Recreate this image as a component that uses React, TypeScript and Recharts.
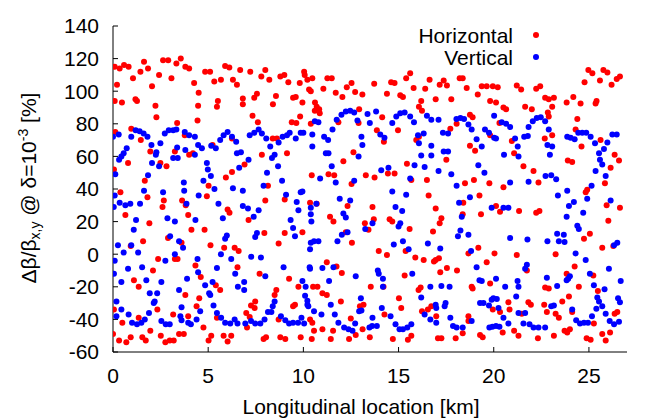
import React from "react";
import { ScatterChart, Scatter, XAxis, YAxis } from "recharts";

// Horizontal beta-beat [km, %]
const horizontalPoints: [number, number][] = [
  [0.09,115],[0.35,114],[0.58,116],[0.82,115],[0.21,104],[0.09,94],[0.47,93],[1.05,108],[1.44,112],[1.63,118],[1.84,114],[2.05,103],[1.18,95],[1.26,94],[2.23,91],[2.28,84],[2.42,110],[2.63,119],[2.9,119],[3.07,108],[3.33,117],[3.56,120],[3.8,115],[4.0,114],[4.26,105],[4.5,99],[4.47,91],[4.44,82],[3.37,80.5],[0.12,75],[0.96,77],[1.46,70],[1.96,63],[2.49,56],[2.81,54],[3.25,63],[3.77,73],[4.0,61],[4.2,62],[0.05,52],[0.79,56],[0.39,38],[0.65,24],[1.67,45],[1.81,35],[2.67,33],[2.6,29],[3.63,33],[3.82,30],[3.95,24],[4.12,15],[1.91,19],[1.58,8],[0.93,5],[2.89,10],[3.6,7],[2.37,-3],[3.25,-3],[3.39,-3],[4.33,-7],[1.1,-16],[1.35,-20],[2.1,-10],[3.8,-25],[4.39,-32],[2.33,-34],[0.05,-34],[0.49,-42],[1.35,-39],[3.16,-37],[3.95,-38],[0,-49],[0.32,-53],[0.7,-54],[0.93,-51],[1.54,-51],[1.72,-53],[1.96,-47],[2.51,-50],[2.75,-54],[2.98,-53],[3.19,-53],[3.47,-49],[3.72,-49],
  [4.84,112],[5.1,112],[5.32,106],[5.67,107],[5.89,115.5],[6.11,114.5],[6.3,107],[6.51,104],[6.68,113],[7.21,112],[7.79,109],[8.0,113],[8.21,107],[8.79,109],[9.0,110],[5.51,94],[5.46,90.5],[6.82,95.5],[6.82,92],[7.42,96],[7.56,98.5],[8.56,97],[8.4,92],[7.33,85],[7.61,81],[6.25,71],[8.39,71],[8.61,71],[9.14,62],[5.23,67],[6.91,55],[7.82,61],[8.14,42],[9.02,33.5],[8.0,33],[6.25,50.5],[5.93,47],[5.02,42],[4.93,35.5],[6.02,27.5],[6.12,25.5],[7.12,21],[4.81,15],[7.95,13],[8.7,6.5],[9.02,13],[5.12,5.5],[5.84,4],[6.39,4],[6.6,2],[4.61,-14],[6.54,-8],[7.7,-12],[5.4,-19],[5.63,-22],[8.58,-22],[8.49,-25],[4.53,-27],[7.47,-29],[7.25,-31.5],[7.44,-33],[7.0,-36],[7.18,-38.5],[5.46,-39],[8.7,-40],[4.75,-45],[5.02,-53],[5.16,-50],[5.81,-50],[6.02,-53.5],[6.21,-50],[7.04,-45],[7.91,-52],[8.04,-51],[8.79,-51],[9.05,-52],
  [9.21,105.5],[9.81,105],[10.04,112],[10.07,110],[10.21,107],[10.47,108],[10.3,101],[10.39,100],[11.05,101.5],[11.26,108],[11.49,108],[11.7,99],[12.05,96.5],[12.28,102.5],[12.53,105],[12.72,99.5],[13.1,98],[13.72,104.5],[9.46,96],[9.6,96.5],[9.95,93],[10.61,93],[10.6,88],[10.7,90.5],[10.83,89],[10.86,86.5],[9.39,81],[9.63,80.5],[9.83,84.5],[10.39,80],[11.84,81],[12.93,89],[12.9,80.5],[12.63,62.5],[12.1,57],[11.62,48.5],[11.32,49],[10.44,48.5],[13.28,48.5],[12.53,43],[10.35,31.5],[10.7,31],[11.4,23],[11.58,20],[12.32,29.5],[13.23,19],[13.42,15],[13.63,29],[9.95,13.5],[12.23,13.5],[12.55,7],[11.23,-5],[11.74,-7.5],[12.02,-11.5],[9.25,-15],[9.74,-20],[10.51,-20],[10.74,-20],[11.0,-24],[11.23,-25],[11.97,-29],[13.54,-20],[9.56,-31],[9.46,-32],[12.97,-32],[13.16,-31],[10.35,-40],[10.47,-42],[12.49,-39.5],[13.11,-46],[11.0,-46],[11.56,-47],[9.86,-51],[10.44,-52],[11.44,-52],[12.4,-52],[12.75,-49.5],[13.49,-51],[10.56,-47],
  [14.39,98.5],[14.61,105.5],[14.79,105],[15.09,97.5],[15.23,96.5],[15.4,108],[15.61,111],[15.79,102],[16.19,94],[16.4,101.5],[16.63,107],[16.95,95],[17.16,104],[17.37,106.5],[17.54,103.5],[17.77,95],[18.21,108],[13.86,76],[14.14,84],[14.97,76],[16.07,90.5],[16.23,88],[16.07,72],[15.93,70],[17.72,77],[14.23,69],[13.74,47],[14.44,49.5],[14.79,49.5],[15.44,55.5],[15.67,45.5],[16.49,45.5],[16.58,36],[17.51,58],[13.7,21.5],[14.53,21.5],[14.67,20],[15.58,15.5],[16.81,14],[16.95,28],[17.25,22],[17.16,19],[13.96,2],[14.39,-0.5],[15.37,2],[15.88,-2],[16.32,-3.5],[16.95,-3.5],[17.12,-2.5],[18.07,-10],[15.32,-13],[16.86,-4.5],[17.54,-8.5],[14.21,-20],[16.05,-22],[16.16,-20.5],[17.19,-11],[15.02,-27],[15.14,-33],[16.54,-34],[16.72,-32],[16.23,-35],[14.26,-37],[14.7,-52],[15.49,-52.5],[15.67,-50],[17.07,-51.5],[17.25,-51.5],[18.0,-51.5],[16.98,-38],
  [18.37,108],[18.58,102],[19.16,98],[19.37,103],[19.63,103],[19.95,103],[20.21,102.5],[19.81,94],[20.12,93],[20.51,90],[20.65,89],[21.21,103.5],[21.44,101],[21.65,90.5],[22.0,89],[22.23,101.5],[22.44,103],[22.7,96],[18.75,85.5],[18.89,84],[20.3,80.5],[19.81,73],[18.05,80],[18.75,66.5],[19.02,63.5],[20.95,69.5],[21.07,62],[21.56,54],[22.09,51],[18.49,43.5],[18.96,45.5],[19.77,43.5],[20.51,41],[22.35,44],[19.25,36],[18.4,31.5],[18.37,24.5],[19.33,24.5],[20.12,29.5],[20.33,26],[21.33,26.5],[22.23,25.5],[22.4,26.5],[19.19,4],[18.67,0.5],[20.04,0.5],[21.21,-0.5],[18.89,-21],[18.84,-20],[19.81,-18],[19.63,-5],[21.74,-10],[21.82,-29.5],[21.95,-31],[22.7,-20.5],[22.65,-31],[18.67,-38],[19.95,-34],[20.33,-35.5],[20.77,-29.5],[20.83,-34],[21.47,-36.5],[22.79,-35.5],[18.37,-48.5],[19.28,-49.5],[19.42,-51],[20.47,-48],[21.07,-47],[21.3,-50],[22.32,-51.5],[18.67,-41],
  [22.89,95],[23.16,96],[22.84,87],[22.89,84.5],[23.07,90.5],[23.83,93],[24.18,96.5],[24.56,92.5],[25.35,92.5],[25.4,94],[24.77,105.5],[24.97,113],[25.18,111],[25.58,106.5],[25.76,113],[25.97,111.5],[26.19,104],[26.46,107.5],[26.63,109],[24.39,83],[24.3,76.5],[24.61,66],[23.07,73],[22.68,71],[23.89,57.5],[24.12,56.5],[25.61,70],[26.35,61],[26.58,57.5],[26.14,53],[25.84,43.5],[24.83,38],[24.91,39.5],[25.93,30],[26.63,28.5],[26.02,20.5],[25.05,12.5],[24.74,9.5],[25.7,4],[26.28,5],[23.25,0],[24.25,-7.5],[23.83,-12],[25.23,-13],[22.89,-21],[24.47,-20],[23.95,-26],[23.6,-29],[25.47,-22.5],[23.25,-36.5],[23.42,-39],[24.12,-35.5],[26.35,-36.5],[26.49,-35.5],[23.72,-47],[23.86,-48],[24.0,-46],[23.16,-50],[24.88,-51.5],[25.09,-52.5],[25.26,-42.5],[25.7,-49],[25.88,-53],[26.11,-48],
];

// Vertical beta-beat [km, %]
const verticalPoints: [number, number][] = [
  [0,72],[0.3,73.5],[0.96,72],[1.19,76],[1.4,75.5],[1.61,74],[1.81,72],[2.02,67],[2.28,62.5],[2.25,61],[2.49,68],[2.72,74],[2.93,76],[3.16,76],[3.33,76.5],[3.77,75],[4.0,73],[4.3,72],[4.47,67],[3.16,59],[3.4,59],[2.05,56],[2.42,54],[3.37,65.5],[3.8,64],[4.3,61],[0.32,58],[0.44,60],[0.56,62],[0.72,65],[0.12,49],[0.09,36],[0.04,29],[0.35,31.5],[0.65,30],[0.91,31],[1.42,31],[1.63,39],[1.84,48.5],[2.63,38],[2.86,22],[3.25,20],[3.72,44],[3.74,39],[3.86,31],[4.33,21],[4.5,36],[1.21,21],[1.09,15],[0.26,5.5],[0.56,1],[0.96,5.5],[1.32,1],[0.09,-4],[0.05,-12],[0.44,-17],[0.79,-9],[1.53,-8],[1.75,-16],[1.93,-24],[2.14,-30],[2.19,-29],[2.32,-24],[2.54,-17],[2.75,-4],[3.0,11],[3.25,0],[3.47,8],[3.68,4],[3.89,-15],[4.44,-3],[4.47,-11],[3.47,-22],[3.6,-32.5],[0.18,-29],[0.44,-34],[0.18,-38],[0.82,-37],[1.0,-42],[1.26,-43],[1.49,-42],[1.67,-40],[1.89,-36],[2.54,-41],[2.77,-43],[2.98,-43],[3.54,-38],[3.6,-40.5],[3.95,-42],[4.09,-43],[4.39,-40],
  [4.67,65],[5.16,66.5],[5.4,65],[5.63,70],[5.81,73],[6.02,75],[6.25,72],[6.47,69],[6.51,62],[6.72,62.5],[6.63,53],[7.12,58],[7.18,73],[7.42,74.5],[7.65,76.5],[7.82,74],[8.05,71],[8.26,66],[8.35,59],[8.49,61],[8.7,68.5],[8.91,72],[9.14,73],[8.67,54],[8.09,50],[8.88,45],[9.09,36.5],[7.91,42],[4.93,56],[4.98,52],[5.14,48],[4.75,45],[5.33,40],[6.3,40.5],[6.82,39],[5.54,31],[5.77,22],[6.82,29.5],[7.09,28],[7.65,27],[7.39,23],[5.89,9.5],[5.98,11.5],[7.47,10.5],[7.56,13],[5.67,0],[6.21,-3],[7.26,-1.5],[7.77,-2],[5.46,-8.5],[6.42,-12],[8.0,-13.5],[8.96,-8],[4.84,-19],[5.23,-17],[5.05,-24],[5.11,-25],[5.28,-31.5],[6.56,-20],[6.89,-17],[6.89,-22],[8.49,-29],[8.39,-32],[8.32,-35.5],[8.14,-35.5],[8.82,-38],[4.58,-35],[5.46,-36],[5.68,-39],[5.89,-42],[6.16,-42.5],[6.39,-40],[6.54,-42.5],[6.95,-42.5],[7.25,-41],[7.47,-42.5],[7.74,-42.5],[7.96,-40],[9.05,-40.5],
  [9.28,74.5],[9.6,71],[9.86,74.5],[10.0,74.5],[10.47,73.5],[10.6,81.5],[10.79,81],[10.47,66],[11.09,72],[11.3,70],[11.18,62],[11.32,62],[11.53,76.5],[11.75,82.5],[12.0,85.5],[12.23,87.5],[12.46,88],[12.67,87],[12.84,82],[13.05,72],[13.1,67],[12.9,60],[13.37,86],[13.49,80.5],[11.49,54],[11.7,44],[10.88,46.5],[12.67,45],[9.86,38],[9.95,38.5],[9.65,32],[9.74,27],[10.39,28.5],[10.39,24.5],[10.42,20],[10.68,31],[9.33,21],[9.46,16],[11.91,34],[12.46,33],[12.1,25],[12.23,22.5],[12.02,12],[12.32,13.5],[13.25,15.5],[13.63,19],[9.56,11],[10.39,7],[10.56,8],[10.79,8],[11.79,8],[10.35,3],[10.33,-8],[10.35,-9],[11.0,-8.5],[11.58,-8],[12.75,-13.5],[9.95,-16.5],[10.12,-20],[10.09,-25.5],[10.21,-28.5],[10.21,-31],[10.26,-32],[10.56,-35],[10.95,-37],[11.35,-16.5],[11.44,-31],[11.65,-37],[13.02,-27],[13.05,-34.5],[12.93,-35],[9.25,-42.5],[9.46,-42],[9.72,-42],[9.9,-39],[10.04,-42.5],[11.84,-42],[12.14,-45],[12.37,-46],[12.58,-47],[12.72,-42.5],[13.63,-39],
  [13.82,87.5],[14.04,73.5],[14.26,71.5],[14.67,80.5],[14.88,84.5],[15.09,86.5],[15.32,87],[15.61,84.5],[15.81,81],[16.02,73],[16.07,68],[16.32,74],[16.49,85],[16.72,82.5],[17.1,82.5],[17.33,74.5],[17.6,74],[17.37,63],[17.6,63],[18.04,83],[18.25,83.5],[16.72,66.5],[16.72,60.5],[16.19,60.5],[15.84,54.5],[16.37,53.5],[17.1,51],[17.77,49],[18.18,31.5],[14.09,51.5],[14.47,53],[15.61,46.5],[14.67,38.5],[15.4,36.5],[14.84,29],[15.19,26.5],[15.09,19],[15.0,17],[18.25,14.5],[18.12,11],[14.75,6],[15.23,8],[16.54,6.5],[17.19,3.5],[15.53,3],[13.91,-10],[13.96,-12],[14.18,-15],[14.18,-20],[15.72,-12],[16.67,-20],[17.25,-19.5],[17.68,-20],[16.19,-26.5],[16.95,-31],[16.98,-33],[17.47,-30],[17.42,-32],[17.72,-39],[14.12,-33],[14.58,-38],[14.84,-43],[15.05,-46],[15.23,-46],[15.46,-45],[15.67,-43],[16.37,-37],[16.67,-40],[16.98,-42],[13.47,-45],[13.61,-44],[13.86,-44],[17.86,-44],
  [18.44,83],[18.67,79.5],[18.84,76.5],[19.1,70.5],[19.37,66],[19.54,76.5],[19.75,74.5],[20.02,85],[20.02,71.5],[20.12,71],[20.54,61],[20.42,81],[20.65,80],[20.86,78],[21.12,71],[21.3,60],[21.26,66],[21.6,72],[21.79,72.5],[21.83,78],[22.05,81.5],[22.26,83.5],[22.47,84],[22.7,81.5],[22.82,67],[19.19,54.5],[19.51,50],[20.86,44],[21.83,44.5],[18.05,42],[18.75,35],[19.89,28.5],[20.51,28.5],[20.77,28.5],[18.32,23],[18.67,12],[20.86,10],[21.77,9],[22.82,8],[18.81,2],[19.1,-8],[20.12,-15],[21.74,-6.5],[21.65,-9],[21.25,-16.5],[21.3,-20],[20.6,-20],[22.79,-14.5],[19.25,-16],[19.37,-16.5],[19.28,-30],[19.89,-28],[19.98,-27],[20.16,-27.5],[20.25,-33],[19.75,-31.5],[19.46,-30],[18.84,-41],[18.05,-45],[18.37,-45],[19.77,-45],[19.93,-44.5],[20.12,-44],[20.3,-44.5],[20.51,-39],[20.77,-42.5],[21.56,-42.5],[21.88,-43],[22.09,-45],[22.35,-45],[22.7,-45],[21.3,-36],[21.65,-36],[21.18,-26],
  [22.89,76.5],[23.07,66],[22.95,61],[22.72,48],[23.02,48.5],[23.28,46],[23.37,36],[23.86,72],[24.04,71.5],[24.25,70.5],[24.44,74.5],[24.65,74.5],[24.86,74.5],[25.09,72],[25.32,68],[25.53,62],[25.58,58],[25.7,55],[25.79,64.5],[25.97,68.5],[26.23,73.5],[26.46,73.5],[25.35,51],[25.88,48],[25.14,42],[24.91,34],[26.14,33],[23.86,39],[23.95,29.5],[24.21,32],[23.83,23],[24.7,25.5],[24.39,17.5],[24.47,15.5],[23.33,12.5],[23.42,8],[23.68,12],[23.72,7.5],[26.49,7],[26.32,5.5],[24.3,0.5],[24.83,-3.5],[26.05,-9],[23.33,-19.5],[23.83,-16],[23.91,-15],[24.0,-13.5],[25.05,-12],[25.26,-19],[25.82,-21.5],[26.67,-16.5],[25.44,-26.5],[25.53,-29],[25.7,-32],[26.53,-27],[26.63,-29.5],[23.02,-32],[23.16,-31.5],[24.12,-34],[24.33,-40.5],[24.53,-42.5],[24.74,-42],[24.95,-42],[25.16,-38],[25.39,-33.5],[25.88,-36.5],[26.09,-41],[26.32,-43],[26.58,-41.5],
];

const xTicks = [0, 5, 10, 15, 20, 25];
const yTicks = [-60, -40, -20, 0, 20, 40, 60, 80, 100, 120, 140];
const xDomain: [number, number] = [0, 27];
const yDomain: [number, number] = [-60, 140];

const FONT = "'Liberation Sans', Arial, Helvetica, sans-serif";
const tickStyle = { fontSize: 21, fill: "#000", fontFamily: FONT };

const hData = horizontalPoints.map(([x, y]) => ({ x, y }));
const vData = verticalPoints.map(([x, y]) => ({ x, y }));

const dot = (color: string) => (props: any) =>
  <circle cx={props.cx} cy={props.cy} r={3} fill={color} />;

export default function App() {
  return (
    <div style={{ position: "absolute", left: 0, top: 0, width: 664, height: 419, background: "#fff" }}>
      <ScatterChart width={664} height={419} margin={{ top: 26, right: 37, bottom: 27, left: 0 }}>
        <XAxis xAxisId="b" type="number" dataKey="x" domain={xDomain} ticks={xTicks} allowDataOverflow
          height={40} tickSize={-5} tickMargin={21} tick={tickStyle}
          axisLine={{ stroke: "#000" }} tickLine={{ stroke: "#000" }} />
        <XAxis xAxisId="t" orientation="top" type="number" dataKey="x" domain={xDomain} ticks={xTicks} allowDataOverflow
          height={0} tickSize={-5} tickFormatter={() => ""}
          axisLine={{ stroke: "#000" }} tickLine={{ stroke: "#000" }} />
        <YAxis yAxisId="l" type="number" dataKey="y" domain={yDomain} ticks={yTicks} allowDataOverflow
          width={113} tickSize={-5} tickMargin={19} tick={tickStyle}
          axisLine={{ stroke: "#000" }} tickLine={{ stroke: "#000" }} />
        <YAxis yAxisId="r" orientation="right" type="number" dataKey="y" domain={yDomain} ticks={yTicks} allowDataOverflow
          width={0} tickSize={-5} tickFormatter={() => ""}
          axisLine={{ stroke: "#000" }} tickLine={{ stroke: "#000" }} />
        <Scatter name="Horizontal" data={hData} xAxisId="b" yAxisId="l" fill="#ff0000"
          shape={dot("#ff0000")} isAnimationActive={false} />
        <Scatter name="Vertical" data={vData} xAxisId="b" yAxisId="l" fill="#0000ff"
          shape={dot("#0000ff")} isAnimationActive={false} />
      </ScatterChart>
      <svg width={664} height={419} style={{ position: "absolute", left: 0, top: 0, pointerEvents: "none" }}
        fontFamily={FONT} fill="#000">
        <text x={513} y={42.5} fontSize={21} textAnchor="end">Horizontal</text>
        <circle cx={536} cy={35} r={3} fill="#ff0000" />
        <text x={513} y={64.5} fontSize={21} textAnchor="end">Vertical</text>
        <circle cx={536} cy={57} r={3} fill="#0000ff" />
        <text x={361} y={414} fontSize={21} textAnchor="middle">Longitudinal location [km]</text>
        <text transform="translate(36,188) rotate(-90)" fontSize={21} textAnchor="middle">
          Δβ/β<tspan fontSize={14} dy={4}>x,y</tspan><tspan dy={-4}> @ δ=10</tspan><tspan fontSize={14} dy={-8}>-3</tspan><tspan dy={8}> [%]</tspan>
        </text>
      </svg>
    </div>
  );
}
